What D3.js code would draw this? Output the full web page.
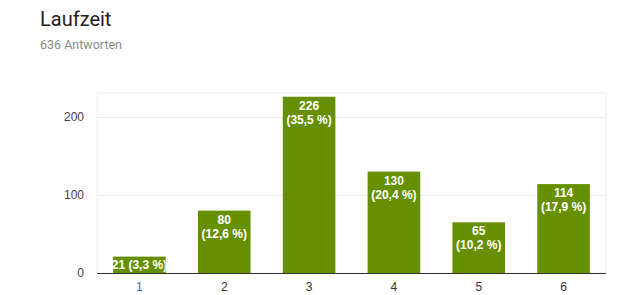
<!DOCTYPE html>
<html>
<head>
<meta charset="utf-8">
<script src="https://cdn.jsdelivr.net/npm/d3@7"></script>
<style>
  body { margin: 0; background: #fff; font-family: Roboto, Arial, sans-serif; }
</style>
</head>
<body>
<div class="chart"></div>
<script>
const categories = ["1", "2", "3", "4", "5", "6"];
const counts = [21, 80, 226, 130, 65, 114];
const percents = ["3,3 %", "12,6 %", "35,5 %", "20,4 %", "10,2 %", "17,9 %"];
const yTicks = [0, 100, 200];

const width = 636;
const height = 295;
const margin = { top: 93, right: 30, bottom: 22, left: 97 };
const innerW = width - margin.left - margin.right;
const innerH = height - margin.top - margin.bottom;
const axisFont = "'Liberation Sans', Arial, sans-serif";

const svg = d3
  .select(".chart")
  .append("svg")
  .attr("width", width)
  .attr("height", height);

svg
  .append("text")
  .attr("x", 40)
  .attr("y", 26)
  .text("Laufzeit")
  .style("font-size", "20px")
  .style("fill", "#212121");

svg
  .append("text")
  .attr("x", 40)
  .attr("y", 49)
  .text("636 Antworten")
  .style("font-size", "12.5px")
  .style("fill", "#8a8a8a");

const g = svg
  .append("g")
  .attr("transform", "translate(" + margin.left + "," + margin.top + ")");

const xScale = d3
  .scaleBand()
  .domain(categories)
  .range([0, innerW])
  .paddingInner(0.38)
  .paddingOuter(0.19);

const yScale = d3.scaleLinear().domain([0, 230.8]).range([innerH, 0]);

// frame
g.append("rect")
  .attr("x", 0)
  .attr("y", 0)
  .attr("width", innerW)
  .attr("height", innerH)
  .attr("fill", "none")
  .attr("stroke", "#f2f2f2");

// gridlines
g.selectAll(".grid")
  .data(yTicks.filter((d) => d > 0))
  .enter()
  .append("line")
  .attr("x1", 0)
  .attr("x2", innerW)
  .attr("y1", (d) => Math.round(yScale(d)) + 0.5)
  .attr("y2", (d) => Math.round(yScale(d)) + 0.5)
  .attr("stroke", "#ebebeb");

g.selectAll(".bar")
  .data(counts)
  .enter()
  .append("rect")
  .attr("x", (d, i) => xScale(categories[i]))
  .attr("y", (d) => yScale(d))
  .attr("width", xScale.bandwidth())
  .attr("height", (d) => innerH - yScale(d))
  .attr("fill", "#678f02");

// clip for labels in bars
const defs = svg.append("defs");
counts.forEach((d, i) => {
  defs
    .append("clipPath")
    .attr("id", "clip" + i)
    .append("rect")
    .attr("x", xScale(categories[i]))
    .attr("y", yScale(d))
    .attr("width", xScale.bandwidth())
    .attr("height", innerH - yScale(d));
});

counts.forEach((d, i) => {
  const cx = xScale(categories[i]) + xScale.bandwidth() / 2;
  const lg = g.append("g").attr("clip-path", "url(#clip" + i + ")");
  const big = innerH - yScale(d) > 35;
  if (big) {
    lg.append("text")
      .attr("x", cx)
      .attr("y", yScale(d) + 13)
      .attr("text-anchor", "middle")
      .text(d);
    lg.append("text")
      .attr("x", cx)
      .attr("y", yScale(d) + 27)
      .attr("text-anchor", "middle")
      .text("(" + percents[i] + ")");
  } else {
    lg.append("text")
      .attr("x", cx)
      .attr("y", yScale(d) + 12)
      .attr("text-anchor", "middle")
      .text(d + " (" + percents[i] + ")");
  }
  lg.selectAll("text")
    .style("font-family", axisFont)
    .style("font-size", "12px")
    .style("font-weight", "bold")
    .style("fill", "#fff");
});

// baseline
g.append("line")
  .attr("x1", 0)
  .attr("x2", innerW)
  .attr("y1", innerH + 0.5)
  .attr("y2", innerH + 0.5)
  .attr("stroke", "#333")
  .attr("stroke-width", 1);

// y tick labels
g.selectAll(".ytick")
  .data(yTicks)
  .enter()
  .append("text")
  .attr("x", -13)
  .attr("y", (d) => yScale(d) + 4)
  .attr("text-anchor", "end")
  .text((d) => d)
  .style("font-family", axisFont)
  .style("font-size", "12px")
  .style("fill", "#444");

// x tick labels
g.selectAll(".xtick")
  .data(categories)
  .enter()
  .append("text")
  .attr("x", (d) => xScale(d) + xScale.bandwidth() / 2)
  .attr("y", innerH + 18)
  .attr("text-anchor", "middle")
  .text((d) => d)
  .style("font-family", axisFont)
  .style("font-size", "12px")
  .style("fill", (d, i) => (i === 0 ? "#2f6fb5" : "#333"));
</script>
</body>
</html>
